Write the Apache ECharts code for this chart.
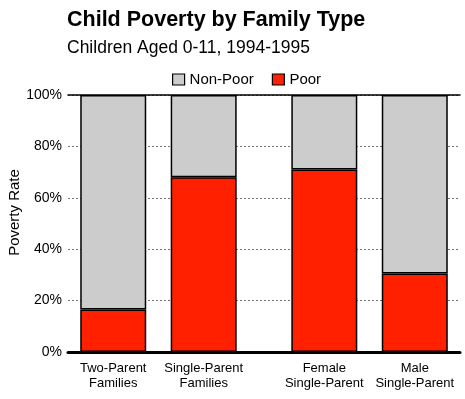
<!DOCTYPE html>
<html>
<head>
<meta charset="utf-8">
<script src="https://cdn.jsdelivr.net/npm/echarts@6/dist/echarts.min.js"></script>
<style>html,body{margin:0;padding:0;background:#fff;}#c{width:465px;height:399px;}</style>
</head>
<body>
<div id="c"></div>
<script>
var categories = ["Two-Parent\nFamilies", "Single-Parent\nFamilies", "Female\nSingle-Parent", "Male\nSingle-Parent"];
var poor = [16.5, 68, 71, 30.5];
var nonPoor = [83.5, 32, 29, 69.5];
var yTicks = [0, 20, 40, 60, 80, 100];

// layout: bars occupy these slots out of 13 equal slots
var slots = [1, 4, 8, 11];
var nSlots = 13;
var axisCats = [], poorData = [], nonPoorData = [];
for (var i = 0; i < nSlots; i++) { axisCats.push(""); poorData.push(null); nonPoorData.push(null); }
slots.forEach(function (s, k) {
  axisCats[s] = categories[k];
  poorData[s] = poor[k];
  nonPoorData[s] = nonPoor[k];
});
var axisCatsUnique = axisCats.map(function (c, i) { return c === "" ? " ".repeat(i + 1) : c; });

var font = "Liberation Sans, Arial, sans-serif";
var chart = echarts.init(document.getElementById('c'), null, {renderer: 'canvas'});
chart.setOption({
  animation: false,
  backgroundColor: '#fff',
  title: {
    text: 'Child Poverty by Family Type',
    subtext: 'Children Aged 0-11, 1994-1995',
    left: 62, top: 4, itemGap: 8,
    textStyle: {fontFamily: font, fontSize: 21.5, fontWeight: 'bold', color: '#000'},
    subtextStyle: {fontFamily: font, fontSize: 17.5, color: '#000'}
  },
  legend: {
    left: 167, top: 67, itemWidth: 12, itemHeight: 11, itemGap: 18, itemStyle: {borderWidth: 1.2},
    icon: 'rect',
    textStyle: {fontFamily: font, fontSize: 15, color: '#000'},
    data: ['Non-Poor', 'Poor']
  },
  grid: {left: 68, right: 5, top: 95, bottom: 47, outerBoundsMode: 'none', containLabel: false},
  xAxis: [{
    type: 'category',
    data: axisCatsUnique,
    axisLine: {lineStyle: {color: '#000', width: 3}},
    axisTick: {show: false},
    axisLabel: {interval: 0, fontFamily: font, fontSize: 13, color: '#000', lineHeight: 15, margin: 9,
      formatter: function (v) { return v.trim(); }},
    splitLine: {show: false}
  }, {
    type: 'category',
    position: 'top',
    data: axisCatsUnique,
    axisLine: {lineStyle: {color: '#000', width: 1.5}},
    axisTick: {show: false},
    axisLabel: {show: false}
  }],
  yAxis: {
    type: 'value', min: 0, max: 100, interval: 20,
    name: 'Poverty Rate', nameLocation: 'middle', nameGap: 46, nameRotate: 90, nameMoveOverlap: false,
    nameTextStyle: {fontFamily: font, fontSize: 15, color: '#000', padding: [0, 0, 0, 22]},
    axisLine: {show: false},
    axisTick: {show: false},
    axisLabel: {fontFamily: font, fontSize: 14, color: '#000', margin: 6,
      formatter: function (v) { return yTicks.indexOf(v) >= 0 ? v + '%' : ''; }},
    splitLine: {lineStyle: {color: '#777', type: [2, 2], width: 1}}
  },
  series: [{
    name: 'Poor', type: 'bar', stack: 'a', barWidth: 66, data: poorData,
    itemStyle: {color: '#ff2000', borderColor: '#000', borderWidth: 1.5}
  }, {
    name: 'Non-Poor', type: 'bar', stack: 'a', barWidth: 66, data: nonPoorData,
    itemStyle: {color: '#cccccc', borderColor: '#000', borderWidth: 1.5}
  }]
});
</script>
</body>
</html>
